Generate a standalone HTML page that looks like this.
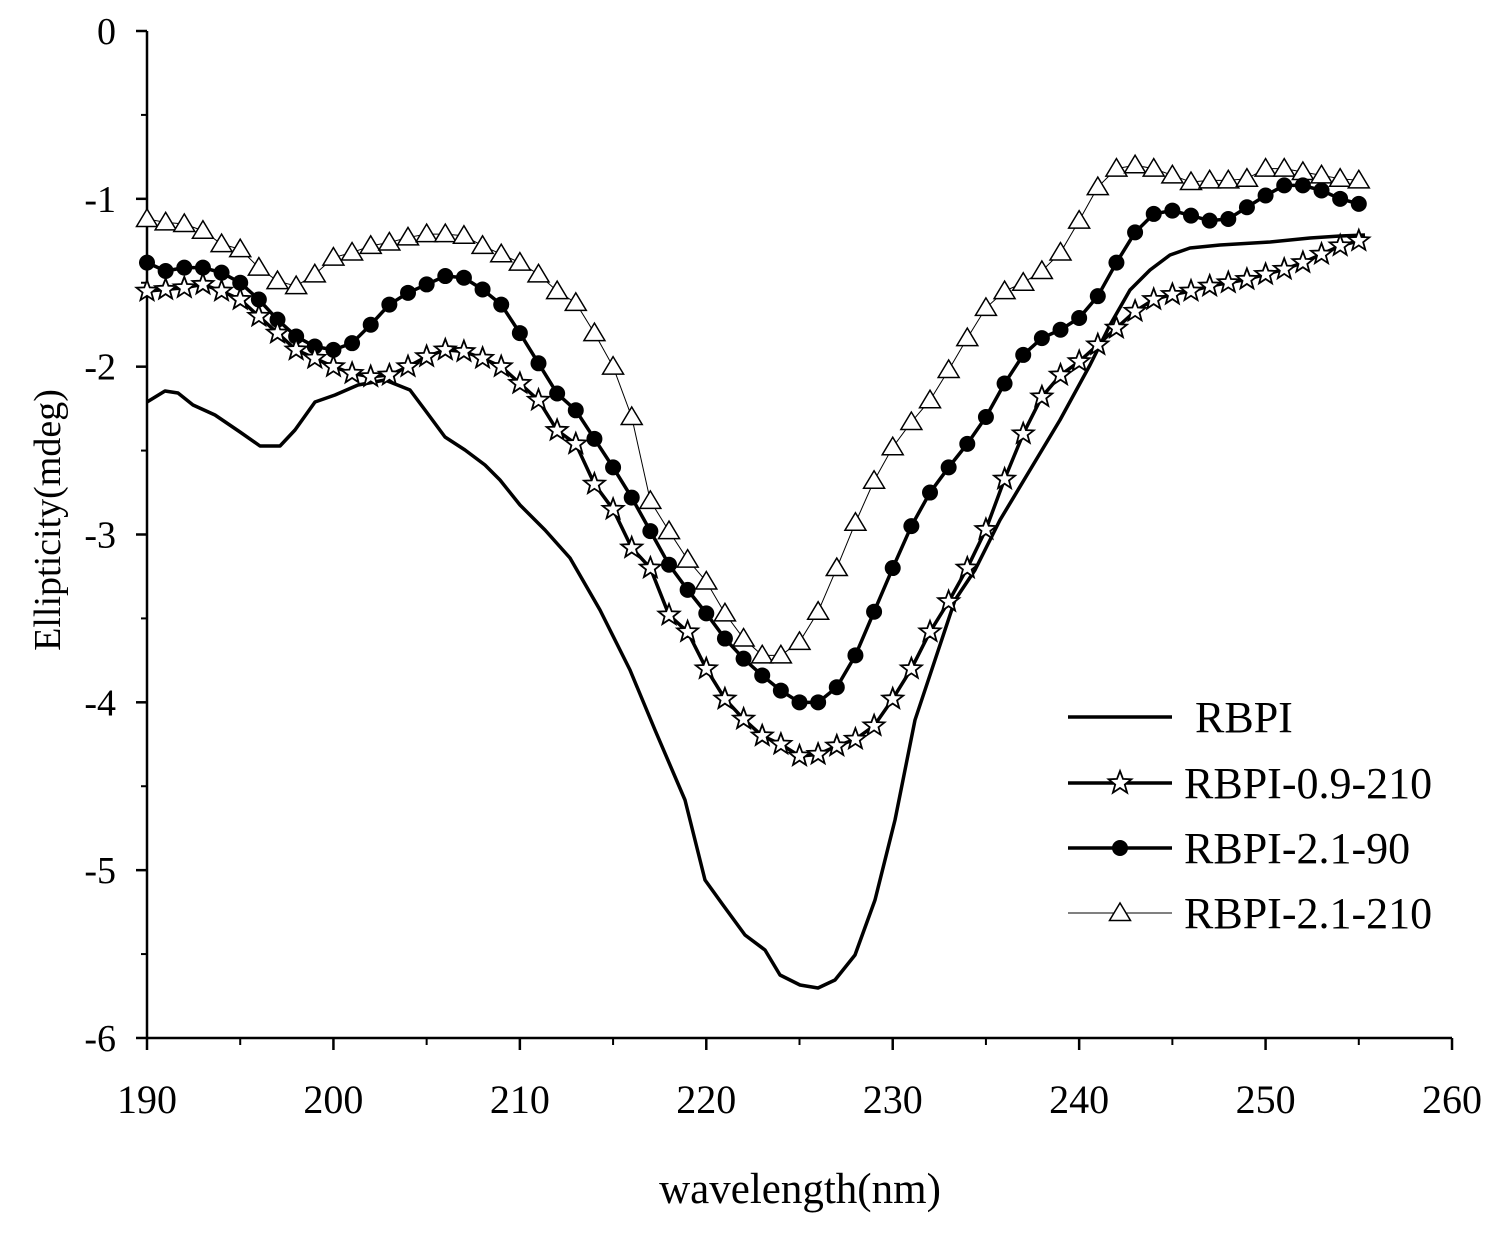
<!DOCTYPE html>
<html><head><meta charset="utf-8">
<style>
html,body{margin:0;padding:0;background:#fff;}
svg{display:block;font-family:"Liberation Serif",serif;}
</style></head>
<body>
<svg id="s" width="1503" height="1237" viewBox="0 0 1503 1237" xmlns="http://www.w3.org/2000/svg">
<rect width="1503" height="1237" fill="#fff"/>
<g id="g"></g>
</svg>
<script>
const NS="http://www.w3.org/2000/svg";
const g=document.getElementById('g');
function el(t,a,txt){const e=document.createElementNS(NS,t);for(const k in a)e.setAttribute(k,a[k]);if(txt!==undefined)e.textContent=txt;g.appendChild(e);return e;}
const X=nm=>147+(nm-190)*18.643, Y=v=>31-v*167.83;
el('line',{x1:147,y1:31,x2:147,y2:1038,stroke:'#000','stroke-width':2.5});
el('line',{x1:147,y1:1038,x2:1452,y2:1038,stroke:'#000','stroke-width':2.5});
for(let v=0;v>=-6;v--){el('line',{x1:136,y1:Y(v),x2:147,y2:Y(v),stroke:'#000','stroke-width':2.5});
 el('text',{x:116,y:Y(v)+13,'font-size':38,'text-anchor':'end'},v===0?'0':'-'+(-v));
 if(v>-6)el('line',{x1:141,y1:Y(v-0.5),x2:147,y2:Y(v-0.5),stroke:'#000','stroke-width':2});}
for(let nm=190;nm<=260;nm+=10){el('line',{x1:X(nm),y1:1038,x2:X(nm),y2:1050,stroke:'#000','stroke-width':2.5});
 el('text',{x:X(nm),y:1113,'font-size':40,'text-anchor':'middle'},nm);
 if(nm<260)el('line',{x1:X(nm+5),y1:1038,x2:X(nm+5),y2:1045,stroke:'#000','stroke-width':2});}
el('text',{x:800,y:1203,'font-size':43,'text-anchor':'middle'},'wavelength(nm)');
el('text',{x:0,y:0,'font-size':38,'text-anchor':'middle',transform:'translate(60,520) rotate(-90)'},'Ellipticity(mdeg)');
const r=[[147,402],[165,391],[178,393],[193,405],[215,415],[240,432],[260,446],[280,446],[295,430],[315,402],[335,395],[358,385],[385,380],[410,390],[425,410],[445,437],[465,450],[485,465],[500,480],[520,505],[545,530],[570,558],[600,610],[630,670],[655,730],[685,800],[705,880],[723,905],[745,935],[765,950],[780,975],[800,985],[818,988],[835,980],[855,955],[875,900],[895,820],[915,720],[935,660],[955,600],[975,570],[1000,520],[1030,470],[1060,420],[1090,365],[1110,325],[1130,290],[1150,270],[1170,255],[1190,248],[1220,245],[1270,242],[1310,238],[1340,236],[1365,235]];
el('polyline',{points:r.map(p=>p.join(',')).join(' '),fill:'none',stroke:'#000','stroke-width':3.5,'stroke-linejoin':'round'});
const st=[-1.55,-1.54,-1.53,-1.51,-1.55,-1.6,-1.7,-1.8,-1.9,-1.95,-2.0,-2.04,-2.06,-2.05,-2.0,-1.94,-1.9,-1.91,-1.95,-2.0,-2.1,-2.2,-2.38,-2.46,-2.7,-2.85,-3.08,-3.2,-3.48,-3.58,-3.8,-3.98,-4.1,-4.2,-4.25,-4.32,-4.31,-4.26,-4.22,-4.14,-3.98,-3.8,-3.58,-3.4,-3.2,-2.97,-2.67,-2.4,-2.18,-2.05,-1.97,-1.87,-1.77,-1.67,-1.6,-1.57,-1.55,-1.52,-1.5,-1.48,-1.45,-1.42,-1.38,-1.33,-1.28,-1.25];
const ci=[-1.38,-1.43,-1.41,-1.41,-1.44,-1.5,-1.6,-1.72,-1.82,-1.88,-1.9,-1.86,-1.75,-1.63,-1.56,-1.51,-1.46,-1.47,-1.54,-1.63,-1.8,-1.98,-2.16,-2.26,-2.43,-2.6,-2.78,-2.98,-3.18,-3.33,-3.47,-3.62,-3.74,-3.84,-3.93,-4.0,-4.0,-3.91,-3.72,-3.46,-3.2,-2.95,-2.75,-2.6,-2.46,-2.3,-2.1,-1.93,-1.83,-1.78,-1.71,-1.58,-1.38,-1.2,-1.09,-1.07,-1.1,-1.13,-1.12,-1.05,-0.98,-0.92,-0.92,-0.95,-1.0,-1.03];
const tr=[-1.12,-1.14,-1.15,-1.19,-1.27,-1.3,-1.41,-1.49,-1.52,-1.45,-1.35,-1.32,-1.28,-1.26,-1.23,-1.21,-1.21,-1.22,-1.28,-1.33,-1.38,-1.45,-1.55,-1.62,-1.8,-2.0,-2.3,-2.8,-2.98,-3.15,-3.28,-3.47,-3.62,-3.72,-3.72,-3.64,-3.46,-3.2,-2.93,-2.68,-2.48,-2.33,-2.2,-2.02,-1.83,-1.65,-1.55,-1.5,-1.43,-1.32,-1.13,-0.93,-0.82,-0.8,-0.82,-0.86,-0.9,-0.89,-0.89,-0.88,-0.82,-0.82,-0.84,-0.86,-0.88,-0.89];
const pts=a=>a.map((v,i)=>[X(190+i),Y(v)]);
function star(x,y,R){let p=[];for(let i=0;i<10;i++){const a=-Math.PI/2+i*Math.PI/5,rr=i%2?R*0.42:R;p.push((x+rr*Math.cos(a)).toFixed(1)+','+(y+rr*Math.sin(a)).toFixed(1));}return p.join(' ');}
function tri(x,y,R){return `${x},${y-R} ${x-R*1.05},${y+R*0.75} ${x+R*1.05},${y+R*0.75}`;}
let P=pts(tr);
el('polyline',{points:P.map(p=>p.join(',')).join(' '),fill:'none',stroke:'#000','stroke-width':1});
P.forEach(p=>el('polygon',{points:tri(p[0],p[1],10),fill:'#fff',stroke:'#000','stroke-width':1.5}));
P=pts(ci);
el('polyline',{points:P.map(p=>p.join(',')).join(' '),fill:'none',stroke:'#000','stroke-width':3.5});
P.forEach(p=>el('circle',{cx:p[0],cy:p[1],r:8,fill:'#000'}));
P=pts(st);
el('polyline',{points:P.map(p=>p.join(',')).join(' '),fill:'none',stroke:'#000','stroke-width':3.5});
P.forEach(p=>el('polygon',{points:star(p[0],p[1],11),fill:'#fff',stroke:'#000','stroke-width':1.8}));
const ly=[717,783,848,913],lab=['\u00a0RBPI','RBPI-0.9-210','RBPI-2.1-90','RBPI-2.1-210'];
ly.forEach((y,i)=>{el('line',{x1:1068,y1:y,x2:1172,y2:y,stroke:'#000','stroke-width':i==3?1:3.5});
 if(i==1)el('polygon',{points:star(1120,y,12),fill:'#fff',stroke:'#000','stroke-width':1.8});
 if(i==2)el('circle',{cx:1120,cy:y,r:8,fill:'#000'});
 if(i==3)el('polygon',{points:tri(1120,y,10),fill:'#fff',stroke:'#000','stroke-width':1.5});
 el('text',{x:1184,y:y+15,'font-size':44},lab[i]);});
</script>
</body></html>
